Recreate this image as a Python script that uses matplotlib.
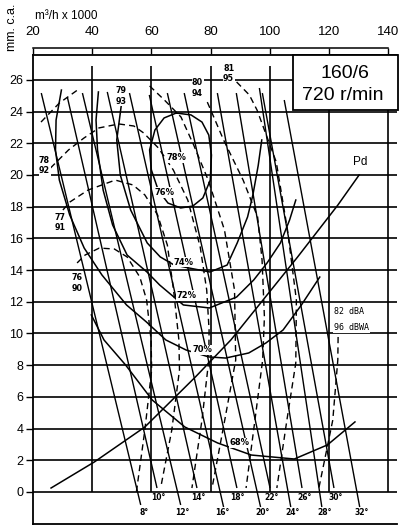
import matplotlib
matplotlib.use('Agg')
import matplotlib.pyplot as plt
from matplotlib.patches import Rectangle

plt.rcParams['font.family'] = ['Liberation Sans', 'DejaVu Sans']

# ---------------- data ----------------
x_ticks = [20, 40, 60, 80, 100, 120, 140]
y_ticks = list(range(0, 27, 2))
x_grid = [40, 60, 80, 100, 120, 140]

blade_labels = ['8°', '10°', '12°', '14°', '16°', '18°', '20°', '22°', '24°', '26°', '28°', '30°', '32°']
blade_top_x = [22.8, 31.6, 36.7, 45.1, 52.6, 59.3, 65.4, 71.1, 82.3, 88.7, 96.5, 97.5, 104.9]
blade_top_y = [25.17, 24.92, 25.17, 25.24, 25.17, 25.05, 25.17, 25.17, 25.17, 25.17, 25.49, 25.17, 24.73]
blade_bot_x = [56.4, 61.9, 69.9, 75.4, 84.4, 88.9, 96.9, 100.1, 107.1, 110.9, 117.6, 121.7, 130.4]
blade_bot_y = [-0.82, 0.25, -0.82, 0.25, -0.95, 0.25, -0.95, 0.25, -0.95, 0.25, -0.95, 0.25, -0.95]
blade_lab_x = [57.4, 62.5, 70.6, 76.0, 84.1, 89.2, 97.6, 100.7, 107.7, 111.9, 118.5, 122.3, 131.0]
blade_lab_y = [-1.32, -0.32, -1.32, -0.32, -1.32, -0.32, -1.32, -0.32, -1.32, -0.32, -1.32, -0.32, -1.32]

pd_x = [26.1, 40.7, 57.8, 74.9, 86.9, 109.3, 123.0, 130.2]
pd_y = [0.25, 1.89, 4.1, 7.26, 9.6, 14.8, 18.1, 20.0]

eff78_x = [68.4, 73.4, 77.1, 79.4, 80.3, 79.9, 77.4, 74.0, 69.9, 65.6, 62.3, 60.0, 59.4, 61.2, 64.3, 68.4]
eff78_y = [23.91, 23.79, 23.34, 22.52, 21.26, 19.68, 18.55, 18.04, 17.92, 18.23, 19.05, 20.32, 21.58, 22.84, 23.6, 23.91]
eff74_x = [49.8, 48.3, 49.5, 53.0, 58.6, 63.0, 67.7, 74.4, 79.8, 85.6, 89.0, 92.5, 94.3, 96.1, 97.3]
eff74_y = [24.35, 22.21, 20.0, 17.79, 15.71, 14.83, 14.32, 14.07, 13.88, 14.32, 15.71, 17.35, 18.74, 20.6, 22.21]
eff72_x = [42.1, 41.3, 41.8, 43.7, 46.9, 51.8, 58.5, 62.8, 70.8, 79.6, 88.8, 94.6, 99.1, 103.6, 106.7, 108.8]
eff72_y = [25.24, 23.47, 21.58, 19.05, 16.85, 14.95, 13.88, 13.06, 11.8, 11.61, 12.3, 13.38, 14.45, 15.71, 17.16, 18.42]
eff70_x = [29.6, 27.8, 27.6, 28.9, 32.4, 37.3, 43.3, 51.6, 58.3, 64.9, 71.7, 79.4, 85.1, 92.9, 98.7, 104.5, 110.7, 116.9]
eff70_y = [25.36, 23.47, 21.58, 19.68, 17.48, 15.39, 13.69, 11.8, 10.73, 9.59, 8.96, 8.52, 8.45, 8.77, 9.4, 10.22, 11.8, 13.56]
eff68_x = [39.7, 44.0, 51.3, 60.3, 71.3, 82.4, 93.8, 108.3, 119.5, 128.8]
eff68_y = [11.17, 9.59, 8.01, 5.8, 4.1, 3.09, 2.33, 2.08, 2.97, 4.42]

eff_labels = ['78%', '76%', '74%', '72%', '70%', '68%']
eff_lab_x = [68.5, 64.6, 71.0, 71.9, 77.1, 89.8]
eff_lab_y = [21.1, 18.9, 14.5, 12.4, 8.96, 3.1]

n76_x = [34.9, 37.6, 42.4, 47.5, 51.8, 56.1, 58.4, 59.9, 60.1, 57.8, 54.8]
n76_y = [14.45, 14.95, 15.39, 15.33, 14.83, 13.56, 12.11, 9.59, 7.70, 3.91, -0.19]
n77_x = [30.1, 32.5, 38.6, 47.8, 53.8, 57.8, 62.1, 65.4, 67.5, 69.3, 69.5, 66.9, 63.2]
n77_y = [17.79, 18.3, 19.05, 19.68, 19.37, 18.74, 17.48, 15.58, 12.74, 9.59, 7.70, 3.91, 0.32]
n78_x = [25.9, 32.0, 37.2, 42.3, 49.0, 54.1, 57.4, 62.4, 67.4, 72.3, 76.5, 78.7, 79.5, 79.4, 77.1, 73.7]
n78_y = [20.44, 21.58, 22.33, 22.97, 23.22, 23.09, 22.65, 21.70, 20.32, 18.42, 15.46, 12.74, 10.22, 8.33, 4.54, 0.25]
n79a_x = [22.7, 28.9, 35.7]
n79a_y = [23.34, 24.54, 25.45]
n79b_x = [59.4, 64.4, 70.0, 74.3, 79.2, 84.7, 88.1, 88.5, 84.8, 80.5]
n79b_y = [25.62, 24.73, 23.66, 21.89, 19.68, 16.53, 12.74, 8.33, 4.54, 0.25]
n80_x = [78.9, 80.5, 84.4, 91.0, 95.9, 97.4, 98.2, 97.6, 95.0, 92.0]
n80_y = [24.6, 23.91, 22.21, 19.68, 17.35, 14.64, 11.04, 8.33, 4.54, 0.25]
n81_x = [88.8, 93.1, 95.7, 102.2, 106.0, 109.0, 108.8, 105.8, 102.4]
n81_y = [25.87, 25.05, 24.1, 20.82, 16.53, 12.11, 8.14, 4.54, 0.25]
n82_x = [123.1, 123.0, 121.3, 116.6]
n82_y = [9.78, 8.33, 4.54, 0.25]

noise_labels = ['78\n92', '77\n91', '76\n90', '79\n93', '80\n94', '81\n95']
noise_lab_x = [23.9, 29.0, 34.8, 49.9, 75.6, 86.1]
noise_lab_y = [20.6, 17.0, 13.2, 25.0, 25.5, 26.4]

# ---------------- figure ----------------
fig = plt.figure(figsize=(4.0, 5.28), dpi=100)
ax = fig.add_axes([0.0825, 0.0076, 0.91, 0.8882])
ax.set_xlim(20, 143)
ax.set_ylim(-2.02, 27.57)

K = 'black'
# grid
ax.hlines(y_ticks, 20, 143, color=K, lw=1.2, zorder=1)
ax.vlines(x_grid, 0, 26.9, color=K, lw=1.2, zorder=1)

# blade angle lines
for i in range(len(blade_labels)):
    ax.plot([blade_top_x[i], blade_bot_x[i]], [blade_top_y[i], blade_bot_y[i]],
            color=K, lw=1.0, zorder=2, solid_capstyle='butt')
    ax.text(blade_lab_x[i], blade_lab_y[i], blade_labels[i], fontsize=5.5,
            fontweight='bold', ha='center', va='center', zorder=5,
            family=['DejaVu Sans'])

# Pd
ax.plot(pd_x, pd_y, color=K, lw=1.1, zorder=2)
ax.text(130.6, 20.8, 'Pd', fontsize=8.5, ha='center', va='center', zorder=5)

# efficiency curves
for xs, ys in [(eff78_x, eff78_y), (eff74_x, eff74_y), (eff72_x, eff72_y),
               (eff70_x, eff70_y), (eff68_x, eff68_y)]:
    ax.plot(xs, ys, color=K, lw=1.1, zorder=2, solid_joinstyle='round')
for lab, lx, ly in zip(eff_labels, eff_lab_x, eff_lab_y):
    ax.text(lx, ly, lab, fontsize=6, fontweight='bold', ha='center', va='center',
            zorder=5, family=['DejaVu Sans'],
            bbox=dict(boxstyle='square,pad=0.08', fc='white', ec='none'))

# noise curves (dashed)
dash = (0, (4.5, 3.0))
for xs, ys in [(n76_x, n76_y), (n77_x, n77_y), (n78_x, n78_y), (n79a_x, n79a_y),
               (n79b_x, n79b_y), (n80_x, n80_y), (n81_x, n81_y), (n82_x, n82_y)]:
    ax.plot(xs, ys, color=K, lw=1.0, ls=dash, zorder=3)
for lab, lx, ly in zip(noise_labels, noise_lab_x, noise_lab_y):
    ax.text(lx, ly, lab, fontsize=5.8, fontweight='bold', ha='center', va='center',
            zorder=5, linespacing=1.25, family=['DejaVu Sans'],
            bbox=dict(boxstyle='square,pad=0.05', fc='white', ec='none'))
ax.text(121.8, 11.36, '82 dBA', fontsize=6, ha='left', va='center', zorder=5,
        family=['DejaVu Sans Mono'],
        bbox=dict(boxstyle='square,pad=0.05', fc='white', ec='none'))
ax.text(121.8, 10.35, '96 dBWA', fontsize=6, ha='left', va='center', zorder=5,
        family=['DejaVu Sans Mono'],
        bbox=dict(boxstyle='square,pad=0.1', fc='white', ec='none'))

# axes styling
for s in ['left', 'bottom', 'right']:
    ax.spines[s].set_linewidth(1.3)
ax.spines['right'].set_visible(False)
ax.spines['top'].set_position(('outward', 5))
ax.spines['top'].set_bounds(20, 140)
ax.spines['top'].set_linewidth(1.1)
ax.plot([0, 1], [1, 1], transform=ax.transAxes, color=K, lw=1.3, clip_on=False, zorder=6)

ax.xaxis.set_ticks_position('top')
ax.xaxis.set_label_position('top')
ax.set_xticks(x_ticks)
ax.set_xticklabels([str(v) for v in x_ticks])
ax.tick_params(axis='x', direction='in', length=4, width=1.0, pad=7, labelsize=9.5)
ax.set_yticks(y_ticks)
ax.set_yticklabels([str(v) for v in y_ticks])
ax.tick_params(axis='y', direction='out', length=5, width=1.0, pad=2, labelsize=9)

# title box
ax.add_patch(Rectangle((0.714, 0.883), 0.29, 0.117, transform=ax.transAxes,
                       fc='white', ec=K, lw=1.3, zorder=10, clip_on=False))
ax.text(0.857, 0.9616, '160/6', transform=ax.transAxes, fontsize=14,
        ha='center', va='center', zorder=11)
ax.text(0.852, 0.9147, '720 r/min', transform=ax.transAxes, fontsize=14,
        ha='center', va='center', zorder=11)

fig.text(12 / 400, 1 - 27 / 528, 'mm. c.a.', rotation=90, ha='center', va='center', fontsize=9)
fig.text(35 / 400, 1 - 16 / 528, 'm³/h x 1000', ha='left', va='center', fontsize=8.5)

fig.savefig('out.png', dpi=100)
